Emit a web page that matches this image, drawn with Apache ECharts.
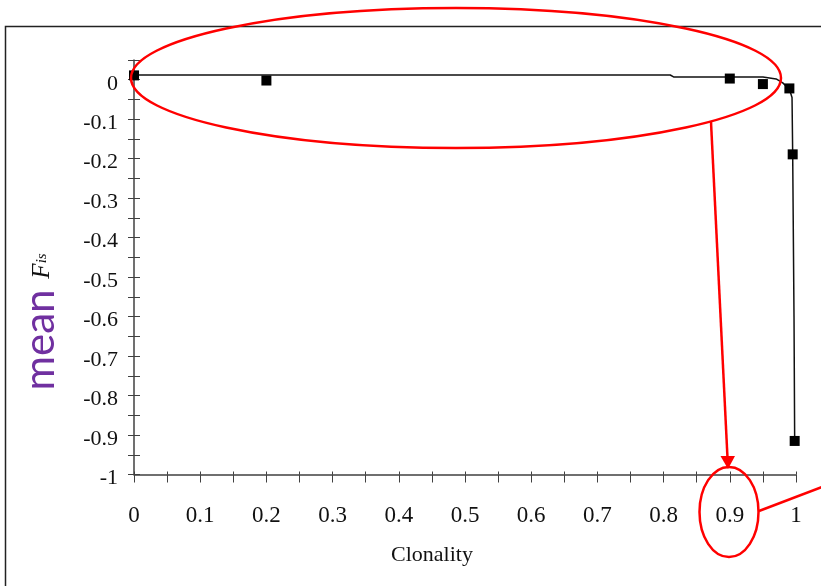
<!DOCTYPE html>
<html>
<head>
<meta charset="utf-8">
<script src="https://cdn.jsdelivr.net/npm/echarts@6/dist/echarts.min.js"></script>
<style>
  html, body { margin: 0; padding: 0; background: #fff; }
  #main { width: 821px; height: 586px; }
</style>
</head>
<body>
<div id="main"></div>
<script>
// simulated points (squares)
const clonality = [0, 0.2, 0.9, 0.95, 0.99, 0.995, 0.998];
const meanFis = [0.011, -0.002, 0.003, -0.011, -0.022, -0.189, -0.915];

// expected curve
const curveX = [0, 0.81, 0.815, 0.95, 0.97, 0.98, 0.99, 0.994, 0.995, 0.997, 0.998];
const curveY = [0.012, 0.012, 0.007, 0.007, 0.002, -0.008, -0.024, -0.045, -0.19, -0.6, -0.915];

const axisColor = '#404040'
const serif = '"Liberation Serif", "DejaVu Serif", serif'

function tickLabel(v) {
  // labels only on multiples of 0.1
  const r = Math.round(v * 100)
  if (r % 10 !== 0) return ''
  return String(+(r / 100).toFixed(1))
}

const chart = echarts.init(document.getElementById('main'))

chart.setOption({
  animation: false,
  grid: { left: 134, right: 25, top: 60, bottom: 111.5 },
  xAxis: [
    {
      type: 'value', min: 0, max: 1, interval: 0.05,
      name: 'Clonality', nameLocation: 'middle', nameGap: 70,
      nameTextStyle: { fontFamily: serif, fontSize: 22, color: '#111', padding: [0, 66, 0, 0] },
      axisLine: { onZero: false, lineStyle: { color: axisColor, width: 1.5 } },
      axisTick: { length: 8, lineStyle: { color: axisColor } },
      axisLabel: { formatter: tickLabel, margin: 30, fontFamily: serif, fontSize: 23, color: '#111' },
      splitLine: { show: false }
    },
    {
      // inner part of the crossing ticks
      type: 'value', min: 0, max: 1, interval: 0.05, position: 'bottom',
      axisLine: { show: false, onZero: false },
      axisTick: { inside: true, length: 3, lineStyle: { color: axisColor } },
      axisLabel: { show: false },
      splitLine: { show: false }
    }
  ],
  yAxis: [
    {
      type: 'value', min: -1, max: 0.05, interval: 0.05,
      axisLine: { show: true, onZero: false, lineStyle: { color: axisColor, width: 1.5 } },
      axisTick: { show: true, length: 6, lineStyle: { color: axisColor } },
      // labels sit a little below their ticks in the original
      axisLabel: {
        formatter: tickLabel, margin: 16, fontFamily: serif, fontSize: 22, color: '#111',
        verticalAlign: 'top', lineHeight: 8
      },
      splitLine: { show: false }
    },
    {
      type: 'value', min: -1, max: 0.05, interval: 0.05, position: 'left',
      axisLine: { show: false, onZero: false },
      axisTick: { show: true, inside: true, length: 6, lineStyle: { color: axisColor } },
      axisLabel: { show: false },
      splitLine: { show: false }
    }
  ],
  series: [
    {
      type: 'line',
      data: curveX.map((x, i) => [x, curveY[i]]),
      showSymbol: false,
      lineStyle: { color: '#111', width: 1.5 },
      z: 2
    },
    {
      type: 'scatter',
      data: clonality.map((x, i) => [x, meanFis[i]]),
      symbol: 'rect',
      symbolSize: 10,
      itemStyle: { color: '#000', opacity: 1 },
      z: 3
    }
  ],
  graphic: [
    {
      // slide frame
      type: 'rect', silent: true, z: 0,
      shape: { x: 5.5, y: 26.5, width: 900, height: 700 },
      style: { fill: 'none', stroke: '#222', lineWidth: 1.5 }
    },
    {
      type: 'text', silent: true, z: 10,
      x: 40, y: 340, rotation: Math.PI / 2,
      style: {
        text: 'mean',
        font: '42px Lato, "Open Sans", sans-serif',
        fill: '#7030A0',
        align: 'center', verticalAlign: 'middle'
      }
    },
    {
      type: 'text', silent: true, z: 10,
      x: 42, y: 266, rotation: Math.PI / 2,
      style: {
        text: '{f|F}{s|is}',
        align: 'center', verticalAlign: 'middle',
        rich: {
          f: { fontFamily: serif, fontStyle: 'italic', fontSize: 25, fill: '#111', color: '#111' },
          s: { fontFamily: serif, fontStyle: 'italic', fontSize: 15, fill: '#111', color: '#111' }
        }
      }
    },
    // red annotations
    {
      type: 'ellipse', silent: true, z: 100,
      shape: { cx: 456, cy: 78, rx: 325, ry: 70 },
      style: { fill: 'none', stroke: '#ff0000', lineWidth: 2.5 }
    },
    {
      type: 'line', silent: true, z: 100,
      shape: { x1: 711, y1: 122, x2: 727.5, y2: 458 },
      style: { stroke: '#ff0000', lineWidth: 2.5 }
    },
    {
      type: 'polygon', silent: true, z: 100,
      shape: { points: [[720.5, 456], [735, 456], [728, 469]] },
      style: { fill: '#ff0000' }
    },
    {
      type: 'ellipse', silent: true, z: 100,
      shape: { cx: 729, cy: 512, rx: 29.5, ry: 45 },
      style: { fill: 'none', stroke: '#ff0000', lineWidth: 2.5 }
    },
    {
      type: 'line', silent: true, z: 100,
      shape: { x1: 759, y1: 511, x2: 830, y2: 484 },
      style: { stroke: '#ff0000', lineWidth: 2.5 }
    }
  ]
})
</script>
</body>
</html>
